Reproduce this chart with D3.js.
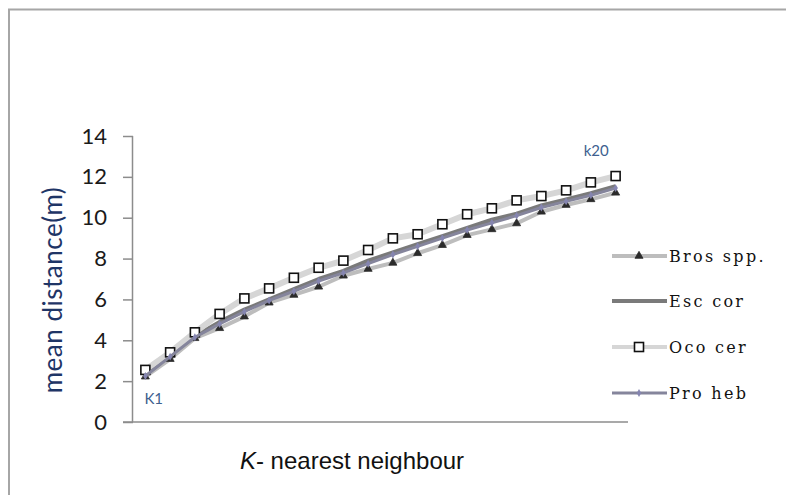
<!DOCTYPE html>
<html><head><meta charset="utf-8">
<script src="https://cdn.jsdelivr.net/npm/d3@7"></script>
<style>body{margin:0;background:#fff;}svg{display:block;}</style>
</head><body>
<script>
const categories = ["K1","K2","K3","K4","K5","K6","K7","K8","K9","K10","K11","K12","K13","K14","K15","K16","K17","K18","K19","K20"];
const brosSpp = [2.22,3.08,4.1,4.59,5.16,5.84,6.22,6.62,7.16,7.49,7.79,8.26,8.66,9.15,9.43,9.72,10.29,10.62,10.9,11.22];
const escCor  = [2.3,3.3,4.2,4.9,5.5,6.0,6.5,7.0,7.4,7.9,8.3,8.7,9.1,9.5,9.9,10.2,10.6,10.9,11.2,11.55];
const ocoCer  = [2.55,3.41,4.39,5.29,6.05,6.54,7.06,7.55,7.9,8.42,8.99,9.19,9.68,10.17,10.46,10.85,11.06,11.34,11.73,12.04];
const proHeb  = [2.25,3.2,4.15,4.8,5.4,5.95,6.4,6.9,7.3,7.75,8.2,8.6,9.0,9.4,9.75,10.1,10.5,10.8,11.1,11.45];
const seriesNames = ["Bros spp.","Esc cor","Oco cer","Pro heb"];
const yTicks = [0,2,4,6,8,10,12,14];
const pointLabels = ["K1","k20"];

const W = 786, H = 495;
const svg = d3.select("body").append("svg").attr("width", W).attr("height", H);

// outer frame (top & left visible)
svg.append("path").attr("d", `M9,${H} L9,9.5 L${W},9.5`).attr("fill","none").attr("stroke","#a6a6a6").attr("stroke-width",2);

const x = d3.scaleBand().domain(categories).range([133, 628]);
const y = d3.scaleLinear().domain([0, 14]).range([422, 136]);
const cx = d => x(d) + x.bandwidth()/2;

// y axis
const ya = svg.append("g").attr("transform","translate(133,0)")
  .call(d3.axisLeft(y).tickValues(yTicks).tickSize(10).tickPadding(16).tickFormat(d3.format("d")));
ya.select(".domain").attr("stroke","#8c8c8c").attr("stroke-width",1.5).attr("d", `M-0.5,${y(14)}V${y(0)}`);
ya.selectAll(".tick line").attr("stroke","#8c8c8c").attr("stroke-width",1.5);
ya.selectAll(".tick text").attr("font-family","Lato, 'Open Sans', sans-serif").attr("font-size",22).attr("fill","#1a1a1a");

// x axis
const xa = svg.append("g").attr("transform",`translate(0,${y(0)})`)
  .call(d3.axisBottom(x).tickSize(0).tickFormat(""));
xa.select(".domain").attr("stroke","#8c8c8c").attr("stroke-width",1.5).attr("d", `M123,0H628`);

const series = [
  {name: seriesNames[0], vals: brosSpp, color:"#bdbdbd", w:4, marker:"triangle"},
  {name: seriesNames[1], vals: escCor, color:"#7a7a7a", w:4, marker:null},
  {name: seriesNames[2], vals: ocoCer, color:"#d6d6d6", w:6, marker:"square"},
  {name: seriesNames[3], vals: proHeb, color:"#85859c", w:3, marker:"diamond"}
];

const line = d3.line().x((d,i)=>cx(categories[i])).y(d=>y(d));

function drawMarker(g, type, px, py) {
  if (type === "triangle") {
    g.append("path").attr("d", d3.symbol(d3.symbolTriangle, 28)()).attr("transform",`translate(${px},${py})`)
      .attr("fill","#2b2b2b").attr("stroke","#2b2b2b").attr("stroke-width",0.8);
  } else if (type === "square") {
    g.append("rect").attr("x",px-4.5).attr("y",py-4.5).attr("width",9).attr("height",9)
      .attr("fill","#fff").attr("stroke","#111").attr("stroke-width",1.6);
  } else if (type === "diamond") {
    g.append("path").attr("d", d3.symbol(d3.symbolDiamond, 18)()).attr("transform",`translate(${px},${py})`)
      .attr("fill","#8585b0");
  }
}

series.forEach(s => {
  const g = svg.append("g");
  g.append("path").datum(s.vals).attr("d", line).attr("fill","none")
    .attr("stroke", s.color).attr("stroke-width", s.w).attr("stroke-linejoin","round");
  if (s.marker) s.vals.forEach((v,i) => drawMarker(g, s.marker, cx(categories[i]), y(v)));
});

// point labels
svg.append("text").attr("x", cx(categories[0]) - 1).attr("y", y(0) - 18)
  .attr("font-family","Lato, sans-serif").attr("font-size",15).attr("fill","#3e5f8f").text(pointLabels[0]);
svg.append("text").attr("x", cx(categories[19]) - 32).attr("y", y(0) - 266)
  .attr("font-family","Lato, sans-serif").attr("font-size",15).attr("fill","#3e5f8f").text(pointLabels[1]);

// axis titles
svg.append("text").attr("transform","translate(62,290) rotate(-90)").attr("text-anchor","middle")
  .attr("font-family","Lato, 'Open Sans', sans-serif").attr("font-size",26).attr("letter-spacing",0.5)
  .attr("fill","#1f3566").text("mean distance(m)");
const xt = svg.append("text").attr("x", 352).attr("y", 469).attr("text-anchor","middle")
  .attr("font-family","'Liberation Sans', Arial, sans-serif").attr("font-size",24).attr("fill","#111");
xt.append("tspan").attr("font-style","italic").text("K");
xt.append("tspan").text("- nearest neighbour");

// legend
const legY = [256, 301, 347, 393];
series.forEach((s,i) => {
  const g = svg.append("g").attr("transform",`translate(0,${legY[i]})`);
  g.append("line").attr("x1",612).attr("x2",667).attr("y1",0).attr("y2",0)
    .attr("stroke", s.color).attr("stroke-width", Math.min(s.w,4));
  if (s.marker) drawMarker(g, s.marker, 639, 0);
  g.append("text").attr("x",669).attr("y",6).attr("font-family","'DejaVu Serif', 'Liberation Serif', serif")
    .attr("font-size",16).attr("letter-spacing",2.3).attr("fill","#111").text(s.name);
});
</script>
</body></html>
